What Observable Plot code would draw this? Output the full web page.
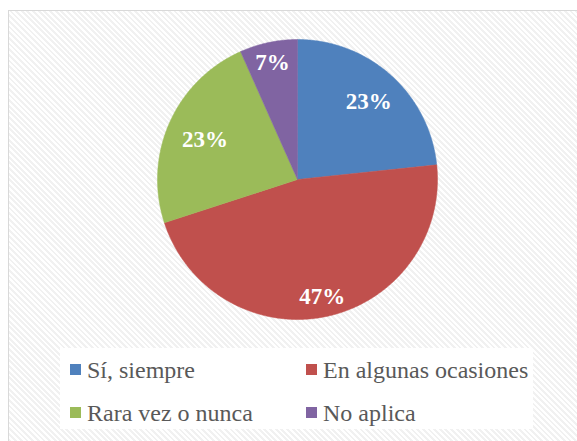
<!DOCTYPE html>
<html>
<head>
<meta charset="utf-8">
<script src="https://cdn.jsdelivr.net/npm/d3@7"></script>
<script src="https://cdn.jsdelivr.net/npm/@observablehq/plot@0.6"></script>
<style>
  html, body { margin: 0; padding: 0; background: #fff; }
  body { width: 577px; height: 441px; overflow: hidden; position: relative; }
  #frame {
    position: absolute; left: 8px; top: 10px; width: 620px; height: 480px;
    border: 1.5px solid #d9d9d9; box-sizing: border-box;
    background: repeating-linear-gradient(45deg, #ffffff 0px, #ffffff 2px, #f1f1f1 2px, #f1f1f1 4px);
  }
  #chart { position: absolute; left: 0; top: 0; }
  .sw { position: absolute; width: 11px; height: 11px; }
  .lt { position: absolute; font-family: "Liberation Serif", serif; font-size: 24px;
        line-height: 24px; color: #595959; white-space: nowrap; }
  #legend { position: absolute; left: 60px; top: 348px; width: 473px; height: 81px; background: #fff; }
</style>
</head>
<body>
<div id="frame"></div>
<div id="chart"></div>
<div id="legend"></div>
<script>
const categories = ["Sí, siempre", "En algunas ocasiones", "Rara vez o nunca", "No aplica"];
const values = [7, 14, 7, 2];
const labels = ["23%", "47%", "23%", "7%"];
const colors = ["#4F81BD", "#C0504D", "#9BBB59", "#8064A2"];

const R = 140; // pixel radius
const arcs = d3.pie().sort(null).startAngle(0).endAngle(2 * Math.PI)(values);

const pts = [];
arcs.forEach((a, i) => {
  const cat = categories[i];
  pts.push({cat, x: 0, y: 0});
  const n = Math.max(8, Math.ceil((a.endAngle - a.startAngle) / 0.01));
  for (let k = 0; k <= n; k++) {
    const t = a.startAngle + (a.endAngle - a.startAngle) * k / n;
    pts.push({cat, x: Math.sin(t), y: Math.cos(t)});
  }
  pts.push({cat, x: 0, y: 0});
});

// label placement: pull label inward so its box stays inside the slice edge
const ctx = document.createElement("canvas").getContext("2d");
ctx.font = "bold 23px 'Liberation Serif', serif";
const labelData = arcs.map((a, i) => {
  const m = (a.startAngle + a.endAngle) / 2;
  const hw = ctx.measureText(labels[i]).width / 2, hh = 6;
  const d = (131 - (1.3 * hw * Math.abs(Math.sin(m)) + hh * Math.abs(Math.cos(m)))) / R;
  return {label: labels[i], x: d * Math.sin(m), y: d * Math.cos(m)};
});

const cx = 297, cy = 179;
const plot = Plot.plot({
  width: 577, height: 340, margin: 0,
  style: {background: "transparent", overflow: "visible"},
  x: {domain: [-1, 1], range: [cx - R, cx + R], axis: null},
  y: {domain: [-1, 1], range: [cy + R, cy - R], axis: null},
  color: {domain: categories, range: colors},
  marks: [
    Plot.line(pts, {x: "x", y: "y", z: "cat", fill: "cat", stroke: "cat", strokeWidth: 0.5}),
    Plot.text(labelData, {x: "x", y: "y", text: "label", fill: "white", fontSize: 23,
      fontWeight: "bold", fontFamily: "Liberation Serif", dy: 1})
  ]
});
document.getElementById("chart").appendChild(plot);

const pos = [[70, 364], [306, 364], [70, 407], [306, 407]];
categories.forEach((c, i) => {
  const [x, y] = pos[i];
  const s = document.createElement("div");
  s.className = "sw"; s.style.left = x + "px"; s.style.top = y + "px"; s.style.background = colors[i];
  document.body.appendChild(s);
  const t = document.createElement("div");
  t.className = "lt"; t.style.left = (x + 17) + "px"; t.style.top = (y - 6) + "px"; t.textContent = c;
  document.body.appendChild(t);
});
</script>
</body>
</html>
